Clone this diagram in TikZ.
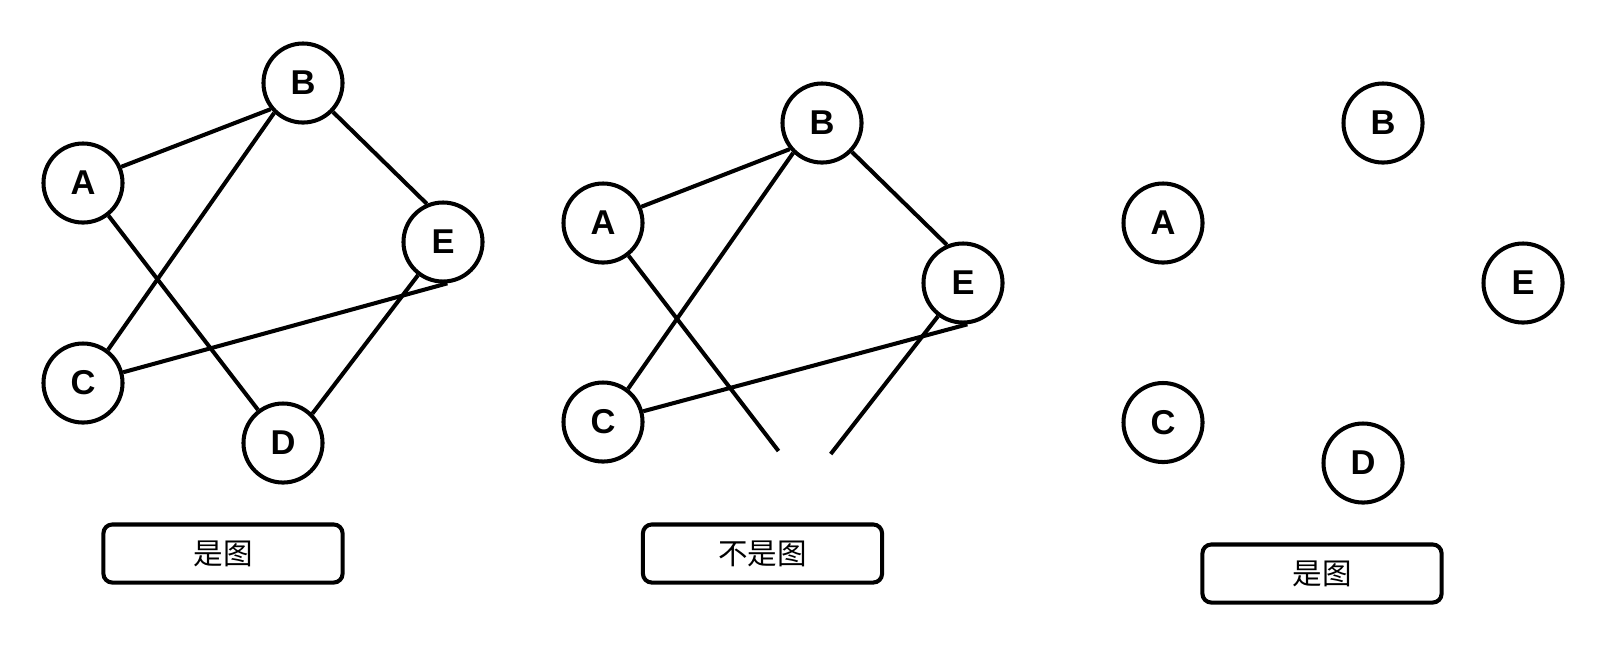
\documentclass[tikz,border=0pt]{standalone}
\usepackage{fontspec}
\setmainfont{Liberation Sans}
\newfontfamily\cjk{Noto Sans CJK SC}

\begin{document}
\begin{tikzpicture}[x=0.01cm, y=-0.01cm,
    vertex/.style={draw=black, line width=1.15pt, circle, minimum size=0.79cm, inner sep=0pt, font=\fontsize{9.8}{10}\selectfont\bfseries},
    verdict/.style={draw=black, line width=1.15pt, rounded corners=2.5pt, minimum width=2.39cm, minimum height=0.58cm, font=\fontsize{8.4}{10}\cjk},
    edge/.style={line width=1.15pt, black}]

    \useasboundingbox (0,0) rectangle (1604,644);

    % A graph - every edge has two end vertices
    \begin{scope}[shift={(0,0)}]
        \node[vertex] (a1) at (83,183) {A};
        \node[vertex] (b1) at (303,83) {B};
        \node[vertex] (e1) at (443,242) {E};
        \node[vertex] (c1) at (83,383) {C};
        \node[vertex] (d1) at (283,443) {D};
        \draw[edge] (a1.23) -- (b1.219);
        \draw[edge] (b1.226) -- (c1.53);
        \draw[edge] (b1.316) -- (e1.113);
        \draw[edge] (a1.308) -- (d1.127);
        \draw[edge] (c1.15) -- (e1.276);
        \draw[edge] (e1.233) -- (d1.45);
        \node[verdict] (v1) at (223,553.5) {是图};
    \end{scope}

    % Not a graph - two edges end without a vertex
    \begin{scope}[shift={(520,40)}]
        \node[vertex] (a2) at (83,183) {A};
        \node[vertex] (b2) at (302,83) {B};
        \node[vertex] (e2) at (443,243) {E};
        \node[vertex] (c2) at (83,382) {C};
        \coordinate (loose1) at (258.5,411);
        \coordinate (loose2) at (310.7,414);
        \draw[edge] (a2.23) -- (b2.219);
        \draw[edge] (b2.226) -- (c2.53);
        \draw[edge] (b2.316) -- (e2.113);
        \draw[edge] (c2.15) -- (e2.276);
        \draw[edge] (a2.308) -- (loose1);
        \draw[edge] (e2.233) -- (loose2);
        \node[verdict] (v2) at (242.5,513.5) {不是图};
    \end{scope}

    % Vertices only, no edges
    \begin{scope}[shift={(1080,40)}]
        \node[vertex] (a3) at (83,183) {A};
        \node[vertex] (b3) at (303,83) {B};
        \node[vertex] (e3) at (443,243) {E};
        \node[vertex] (c3) at (83,382.5) {C};
        \node[vertex] (d3) at (283,423) {D};
        \node[verdict] (v3) at (242,533.5) {是图};
    \end{scope}

\end{tikzpicture}
\end{document}
